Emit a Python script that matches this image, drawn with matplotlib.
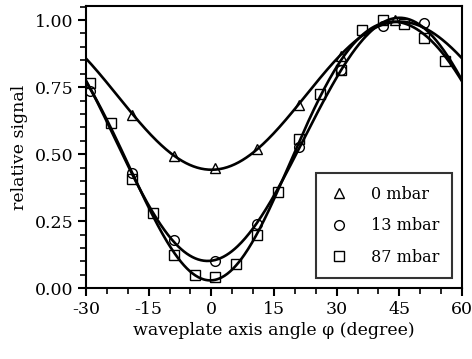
import numpy as np
import matplotlib
matplotlib.use("Agg")
import matplotlib.pyplot as plt
from matplotlib.ticker import MultipleLocator, FormatStrFormatter

# measured points (angle in degree, relative signal)
x_0mbar = [-19, -9, 1, 11, 21, 31, 44]
y_0mbar = [0.647, 0.495, 0.448, 0.520, 0.684, 0.867, 1.00]

x_13mbar = [-29, -19, -9, 1, 11, 21, 31, 41, 51]
y_13mbar = [0.734, 0.428, 0.180, 0.103, 0.241, 0.527, 0.815, 0.976, 0.988]

x_87mbar = [-29, -24, -19, -14, -9, -4, 1, 6, 11, 16, 21, 26, 31, 36, 41, 46, 51, 56]
y_87mbar = [0.765, 0.618, 0.407, 0.280, 0.124, 0.050, 0.043, 0.090, 0.197,
            0.360, 0.555, 0.724, 0.815, 0.964, 1.00, 0.986, 0.933, 0.846]

labels = ["0 mbar", "13 mbar", "87 mbar"]
markers = ["^", "o", "s"]
n_harm = [1, 2, 2]   # harmonics used in the fit of each series


def fit_curve(xs, ys, xf, nh):
    # least squares fit with cos/sin terms of 4phi (and 8phi)
    def basis(p):
        cols = [np.ones_like(p)]
        for k in range(1, nh + 1):
            cols += [np.cos(4 * k * p), np.sin(4 * k * p)]
        return np.column_stack(cols)
    p = np.radians(np.asarray(xs, float))
    coef, *_ = np.linalg.lstsq(basis(p), np.asarray(ys, float), rcond=None)
    return basis(np.radians(xf)) @ coef


plt.rcParams["font.family"] = ["DejaVu Serif"]
plt.rcParams["font.size"] = 12.5
plt.rcParams["axes.unicode_minus"] = False

fig = plt.figure(figsize=(4.72, 3.59), dpi=100)
ax = fig.add_axes([0.182, 0.197, 0.797, 0.786])

xf = np.linspace(-30, 60, 400)
for xs, ys, m, lbl, nh in zip([x_0mbar, x_13mbar, x_87mbar],
                              [y_0mbar, y_13mbar, y_87mbar], markers, labels, n_harm):
    ax.plot(xf, fit_curve(xs, ys, xf, nh), color="black", lw=1.9, zorder=2)
    ax.plot(xs, ys, ls="none", marker=m, ms=7, mfc="none", mec="black",
            mew=1.0, zorder=3, label=lbl)

ax.set_xlim(-30, 60)
ax.set_ylim(0, 1.052)
ax.xaxis.set_major_locator(MultipleLocator(15))
ax.xaxis.set_minor_locator(MultipleLocator(5))
ax.yaxis.set_major_locator(MultipleLocator(0.25))
ax.yaxis.set_minor_locator(MultipleLocator(0.05))
ax.yaxis.set_major_formatter(FormatStrFormatter("%.2f"))
ax.tick_params(which="major", length=6, width=1.5, direction="out", pad=3)
ax.tick_params(which="minor", length=4, width=1.2, direction="out")
for s in ax.spines.values():
    s.set_linewidth(1.5)

ax.set_xlabel("waveplate axis angle φ (degree)", labelpad=3)
ax.set_ylabel("relative signal", labelpad=5)

leg = ax.legend(loc="lower right", bbox_to_anchor=(0.973, 0.035), borderaxespad=0,
                frameon=True, fancybox=False, edgecolor="black", fontsize=11.5,
                handletextpad=1.4, labelspacing=0.9, borderpad=0.8, handlelength=1.2)
leg.get_frame().set_linewidth(1.5)

fig.savefig("out.png", dpi=100)
